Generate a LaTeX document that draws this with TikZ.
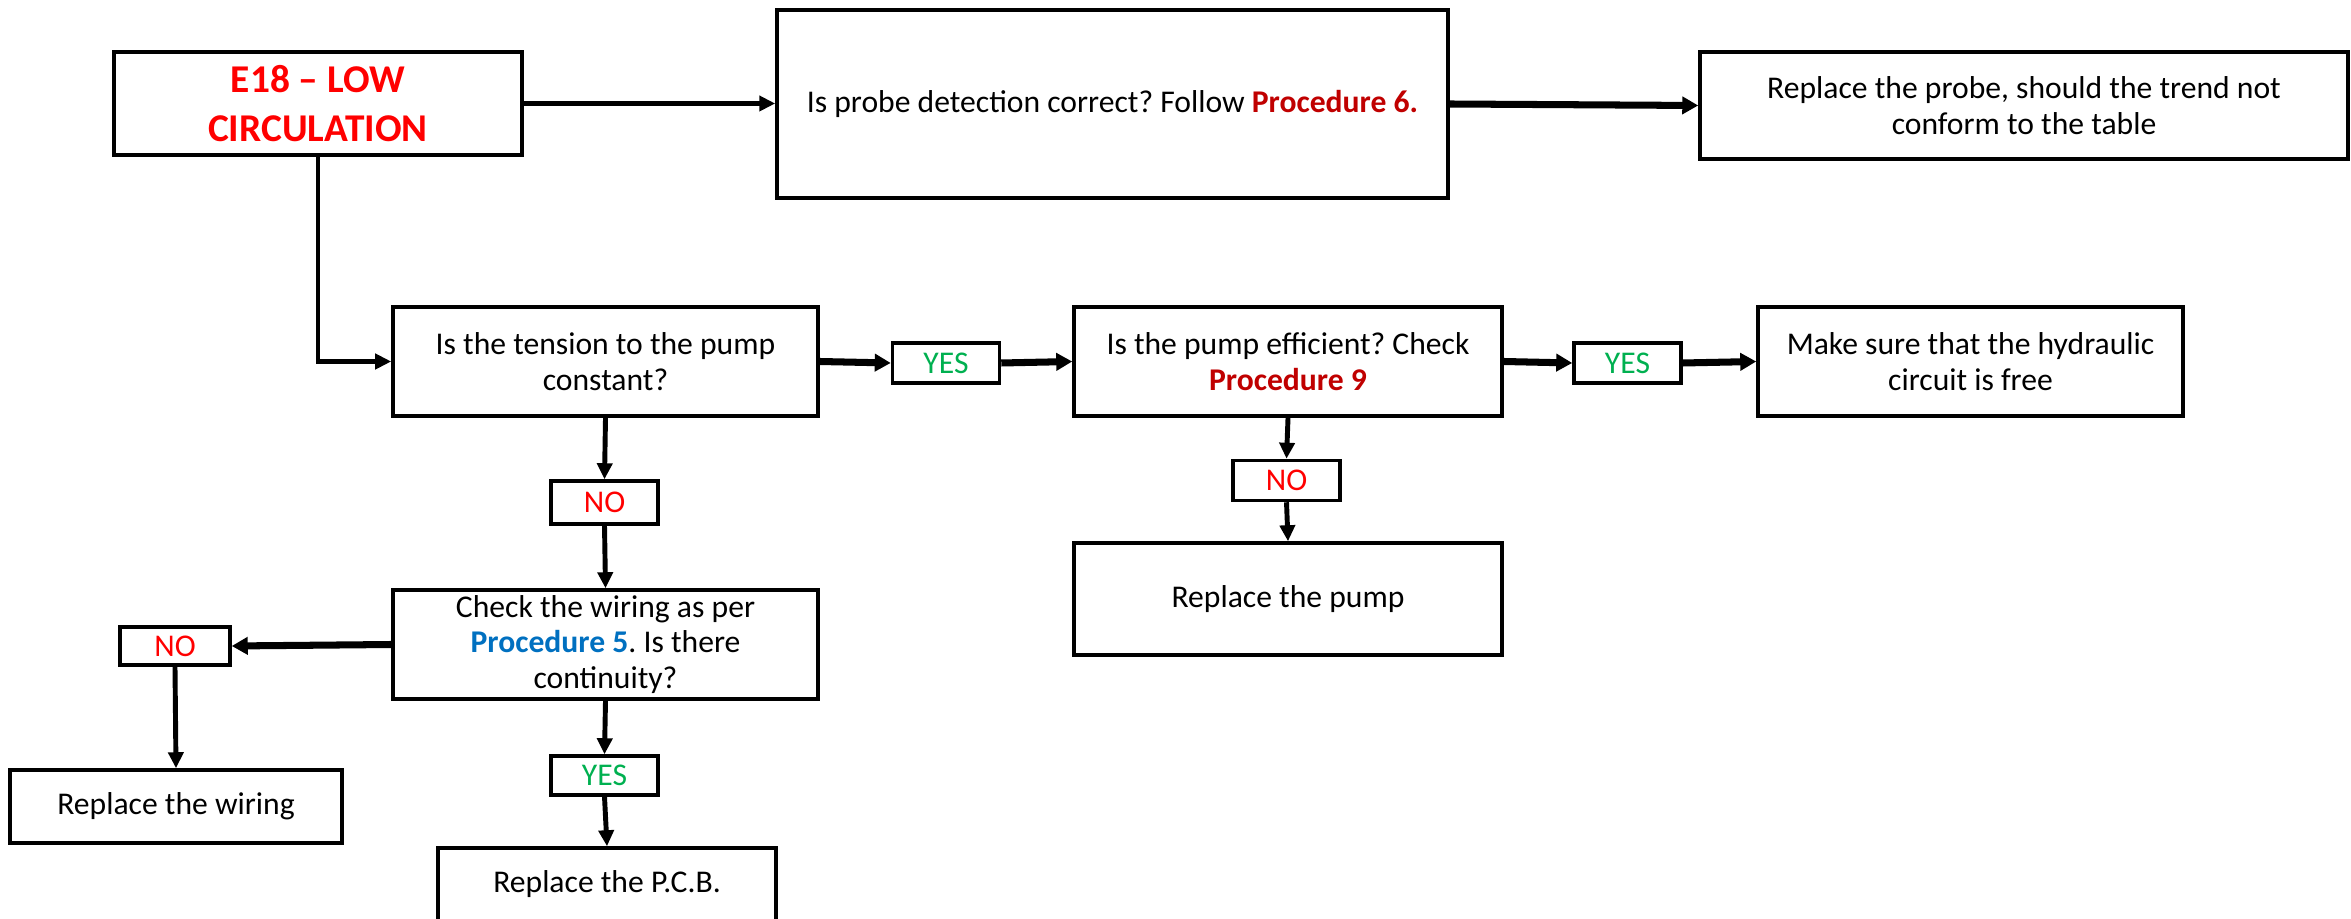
\documentclass[tikz,border=0pt]{standalone}
\usepackage{fontspec}
\setmainfont{Carlito}
\usetikzlibrary{arrows.meta}
\definecolor{alarmred}{HTML}{FF0000}
\definecolor{procred}{HTML}{C00000}
\definecolor{procblue}{HTML}{0070C0}
\definecolor{yesgreen}{HTML}{00B050}
\frenchspacing
\begin{document}
\begin{tikzpicture}[
	box/.style={draw, line width=1pt, align=center, inner sep=0pt, font=\fontsize{9}{10.2}\selectfont},
	tag/.style={draw, line width=1pt, align=center, inner sep=0pt, minimum width=1.07cm, minimum height=0.4cm, font=\fontsize{9}{10}\selectfont},
	arr/.style={line width=1.4pt, -{Triangle[length=0.16cm, width=0.15cm]}},
	fat/.style={line width=2pt, -{Triangle[length=0.16cm, width=0.17cm]}}]
	\useasboundingbox (0,0) rectangle (23.51,-9.19);
	\clip (0,0) rectangle (23.51,-9.19);
	% top row
	\node[box, minimum width=4.08cm, minimum height=1.03cm, text=alarmred, font=\fontsize{11.2}{13.9}\selectfont\bfseries] (e18) at (3.18,-1.035) {E18 -- LOW\\CIRCULATION};
	\node[box, minimum width=6.71cm, minimum height=1.88cm] (probe) at (11.125,-1.04) {Is probe detection correct? Follow \textcolor{procred}{\textbf{Procedure 6.}}};
	\node[box, minimum width=6.48cm, minimum height=1.07cm] (repprobe) at (20.24,-1.055) {Replace the probe, should the trend not\\conform to the table};
	% second row
	\node[box, minimum width=4.25cm, minimum height=1.09cm] (tension) at (6.055,-3.615) {Is the tension to the pump\\constant?};
	\node[tag, text=yesgreen] (yes1) at (9.46,-3.63) {YES};
	\node[box, minimum width=4.28cm, minimum height=1.09cm] (pumpeff) at (12.88,-3.615) {Is the pump efficient? Check\\\textcolor{procred}{\textbf{Procedure 9}}};
	\node[tag, text=yesgreen] (yes2) at (16.275,-3.63) {YES};
	\node[box, minimum width=4.25cm, minimum height=1.09cm] (hydraulic) at (19.705,-3.615) {Make sure that the hydraulic\\circuit is free};
	% pump branch
	\node[tag, text=alarmred] (no2) at (12.865,-4.805) {NO};
	\node[box, minimum width=4.28cm, minimum height=1.12cm] (reppump) at (12.88,-5.99) {Replace the pump};
	% wiring branch
	\node[tag, text=alarmred, minimum height=0.43cm] (no1) at (6.045,-5.025) {NO};
	\node[box, minimum width=4.25cm, minimum height=1.09cm] (wiring) at (6.055,-6.445) {Check the wiring as per\\\textcolor{procblue}{\textbf{Procedure 5}}. Is there\\continuity?};
	\node[tag, text=alarmred, minimum width=1.1cm, minimum height=0.38cm] (no3) at (1.75,-6.46) {NO};
	\node[box, minimum width=3.32cm, minimum height=0.73cm] (repwiring) at (1.76,-8.065) {Replace the wiring};
	\node[tag, text=yesgreen, minimum height=0.39cm] (yes3) at (6.045,-7.755) {YES};
	\node[box, minimum width=3.38cm, minimum height=1.1cm, text depth=0.42cm] (pcb) at (6.07,-9.03) {Replace the P.C.B.};
	% connectors
	\draw[arr] (e18.east) -- (e18.east -| probe.west);
	\draw[fat] (probe.east) -- (repprobe.west);
	\draw[arr] (e18.south) |- (tension.west);
	\draw[fat] (tension.east) -- (yes1.west);
	\draw[fat] (yes1.east) -- (pumpeff.west);
	\draw[fat] (pumpeff.east) -- (yes2.west);
	\draw[fat] (yes2.east) -- (hydraulic.west);
	\draw[arr] (pumpeff.south) -- (no2.north);
	\draw[arr] (no2.south) -- (reppump.north);
	\draw[arr] (tension.south) -- (no1.north);
	\draw[arr] (no1.south) -- (wiring.north);
	\draw[fat] (wiring.west) -- (no3.east);
	\draw[arr] (no3.south) -- (repwiring.north);
	\draw[arr] (wiring.south) -- (yes3.north);
	\draw[arr] (yes3.south) -- (pcb.north);
\end{tikzpicture}
\end{document}
